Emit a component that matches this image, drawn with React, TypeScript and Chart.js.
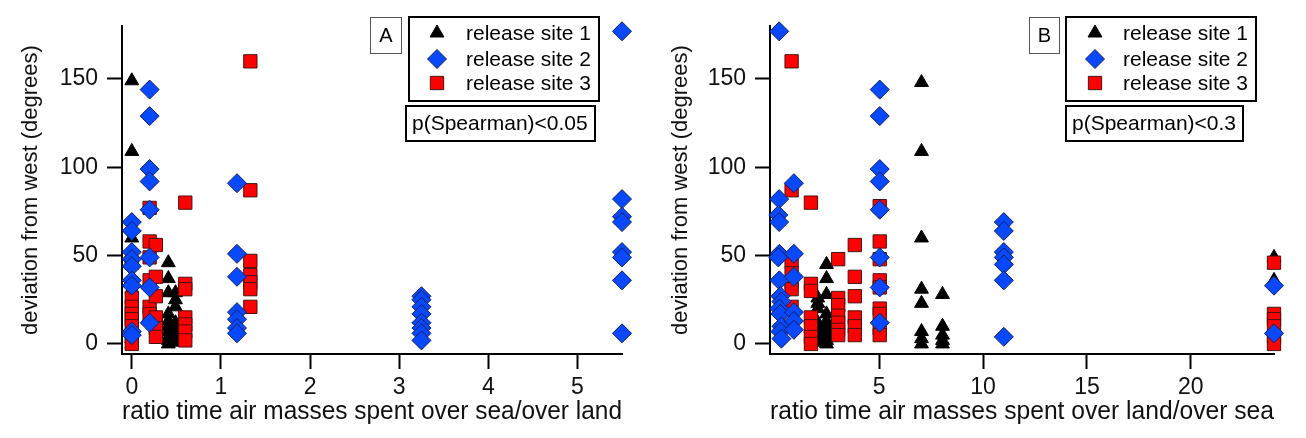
import React, { useEffect, useRef } from "react";
import { Chart, registerables } from "chart.js";

Chart.register(...registerables);

type Pt = [number, number];

// ---------- DATA ----------
const seriesNames = ["release site 1", "release site 2", "release site 3"];

// Panel A: x = ratio time air masses spent over sea/over land
const aSite1: Pt[] = [
  [0, 149], [0, 109], [0, 60], [0, 48], [0, 36], [0, 31], [0, 23], [0, 7], [0, 3], [0, 0],
  [0.41, 46], [0.41, 37], [0.41, 29], [0.41, 17], [0.41, 13], [0.41, 10], [0.41, 7], [0.41, 4], [0.41, 2], [0.41, 0],
  [0.49, 29], [0.49, 25], [0.49, 21], [0.49, 12], [0.49, 8], [0.49, 5], [0.49, 3], [0.49, 1],
];
const aSite2: Pt[] = [
  [0, 69], [0, 64], [0, 52], [0, 48], [0, 44], [0, 36], [0, 33], [0, 7], [0, 5],
  [0.2, 144], [0.2, 129], [0.2, 99], [0.2, 92], [0.2, 76], [0.2, 49], [0.2, 32], [0.2, 12],
  [1.18, 91], [1.18, 51], [1.18, 38], [1.18, 18], [1.18, 14], [1.18, 9], [1.18, 6],
  [3.25, 27], [3.25, 25], [3.25, 21], [3.25, 17], [3.25, 12], [3.25, 9], [3.25, 6], [3.25, 2],
  [5.5, 177], [5.5, 82], [5.5, 72], [5.5, 69], [5.5, 52], [5.5, 49], [5.5, 36], [5.5, 6],
];
const aSite3: Pt[] = [
  [0, 46], [0, 26], [0, 21], [0, 17], [0, 14], [0, 10], [0, 5], [0, 0],
  [0.2, 77], [0.2, 58], [0.2, 49], [0.2, 36], [0.2, 21], [0.2, 17],
  [0.27, 56], [0.27, 38], [0.27, 27], [0.27, 15], [0.27, 9], [0.27, 4],
  [0.6, 80], [0.6, 34], [0.6, 31], [0.6, 15], [0.6, 11], [0.6, 7], [0.6, 2],
  [1.33, 160], [1.33, 87], [1.33, 47], [1.33, 39], [1.33, 35], [1.33, 31], [1.33, 21],
];

// Panel B: x = ratio time air masses spent over land/over sea
const bSite1: Pt[] = [
  [7.04, 148], [7.04, 109], [7.04, 60], [7.04, 31], [7.04, 23], [7.04, 7], [7.04, 3], [7.04, 0],
  [8.05, 28], [8.05, 10], [8.05, 5], [8.05, 2], [8.05, 0],
  [2.47, 45], [2.47, 37], [2.47, 28], [2.47, 17], [2.47, 13], [2.47, 10], [2.47, 7], [2.47, 4], [2.47, 2], [2.47, 0],
  [2.05, 26], [2.05, 23], [2.05, 20], [2.05, 12], [2.05, 8], [2.05, 5], [2.05, 3], [2.05, 1],
  [24, 49], [24, 36],
];
const bSite2: Pt[] = [
  [0.19, 177], [0.19, 82], [0.15, 73], [0.19, 69], [0.2, 51], [0.15, 49], [0.2, 36], [0.25, 27], [0.3, 24],
  [0.2, 20], [0.25, 17], [0.3, 10], [0.25, 7], [0.3, 3],
  [0.9, 91], [0.9, 51], [0.9, 38], [0.9, 18], [0.9, 13], [0.9, 8],
  [5.03, 144], [5.03, 129], [5.03, 99], [5.03, 92], [5.03, 76], [5.03, 49], [5.03, 32], [5.03, 12],
  [11, 69], [11, 64], [11, 52], [11, 49], [11, 45], [11, 36], [11, 4],
  [24, 33], [24, 6],
];
const bSite3: Pt[] = [
  [0.79, 160], [0.79, 87], [0.79, 47], [0.79, 40], [0.79, 35], [0.79, 31], [0.79, 21],
  [1.72, 80], [1.72, 34], [1.72, 30], [1.72, 15], [1.72, 10], [1.72, 4], [1.72, 0],
  [3.03, 48], [3.03, 26], [3.03, 22], [3.03, 16], [3.03, 12], [3.03, 8], [3.03, 5],
  [3.83, 56], [3.83, 38], [3.83, 27], [3.83, 15], [3.83, 10], [3.83, 5],
  [5.03, 78], [5.03, 58], [5.03, 48], [5.03, 36], [5.03, 32], [5.03, 20], [5.03, 17], [5.03, 9], [5.03, 5],
  [24, 46], [24, 17], [24, 14], [24, 10], [24, 4], [24, 0],
];

const yTicks = [0, 50, 100, 150];
const xTicksA = [0, 1, 2, 3, 4, 5];
const xTicksB = [5, 10, 15, 20];

const yTitle = "deviation from west (degrees)";
const xTitleA = "ratio time air masses spent over sea/over land";
const xTitleB = "ratio time air masses spent over land/over sea";
const statA = "p(Spearman)<0.05";
const statB = "p(Spearman)<0.3";

// ---------- STYLE ----------
const FONT = '"Liberation Sans", Arial, Helvetica, sans-serif';
const H = 438;
const AREA_TOP = 26;
const AREA_BOTTOM = 354;

const markerStyles = [
  { shape: "triangle", r: 8, fill: "#000000", stroke: "#000000" },
  { shape: "rectRot", r: 9.5, fill: "#0848ff", stroke: "#10205a" },
  { shape: "rect", r: 9.4, fill: "#ff0000", stroke: "#4a1010" },
];

function drawMarker(ctx: CanvasRenderingContext2D, shape: string, x: number, y: number, r: number, fill: string, stroke: string) {
  ctx.beginPath();
  if (shape === "triangle") {
    ctx.moveTo(x, y - r);
    ctx.lineTo(x + 0.866 * r, y + 0.5 * r);
    ctx.lineTo(x - 0.866 * r, y + 0.5 * r);
  } else if (shape === "rectRot") {
    ctx.moveTo(x, y - r);
    ctx.lineTo(x + r, y);
    ctx.lineTo(x, y + r);
    ctx.lineTo(x - r, y);
  } else {
    const h = r * Math.SQRT1_2;
    ctx.rect(x - h, y - h, 2 * h, 2 * h);
  }
  ctx.closePath();
  ctx.fillStyle = fill;
  ctx.fill();
  ctx.lineWidth = 1;
  ctx.strokeStyle = stroke;
  ctx.stroke();
}

const annotPlugin = {
  id: "panelAnnot",
  afterDraw(chart: any, _args: any, o: any) {
    const ctx: CanvasRenderingContext2D = chart.ctx;
    ctx.save();
    // tag box
    const [tx, ty, tw, th] = o.tagBox;
    ctx.lineWidth = 1;
    ctx.strokeStyle = "#555";
    ctx.strokeRect(tx + 0.5, ty + 0.5, tw, th);
    ctx.fillStyle = "#000";
    ctx.font = `20px ${FONT}`;
    ctx.textAlign = "center";
    ctx.textBaseline = "middle";
    ctx.fillText(o.tag, tx + tw / 2 + 0.5, ty + th / 2 + 1);
    // legend box
    const [lx, ly, lw, lh] = o.legendBox;
    ctx.lineWidth = 2;
    ctx.strokeStyle = "#000";
    ctx.strokeRect(lx, ly, lw, lh);
    ctx.font = `21px ${FONT}`;
    ctx.textAlign = "left";
    seriesNames.forEach((name, i) => {
      const m = markerStyles[i];
      const y = o.rowsY[i];
      drawMarker(ctx, m.shape, o.markerX, y, m.r, m.fill, m.stroke);
      ctx.fillStyle = "#000";
      ctx.fillText(name, o.textX, y + 1);
    });
    // stat box
    const [sx, sy, sw, sh] = o.statBox;
    ctx.lineWidth = 2;
    ctx.strokeStyle = "#000";
    ctx.strokeRect(sx, sy, sw, sh);
    ctx.fillStyle = "#000";
    ctx.font = `21px ${FONT}`;
    ctx.fillText(o.statText, o.statTextX, sy + sh / 2 + 1);
    ctx.restore();
  },
};

function makeConfig(
  sets: Pt[][],
  xMin: number,
  xMax: number,
  xTicks: number[],
  xTitle: string,
  yAxisWidth: number,
  padRight: number,
  annot: any
): any {
  const orders = [3, 1, 2];
  return {
    type: "scatter",
    data: {
      datasets: sets.map((pts, i) => ({
        label: seriesNames[i],
        data: pts.map(([x, y]) => ({ x, y })),
        pointStyle: markerStyles[i].shape,
        pointRadius: markerStyles[i].r,
        pointHoverRadius: markerStyles[i].r,
        pointBackgroundColor: markerStyles[i].fill,
        pointBorderColor: markerStyles[i].stroke,
        pointBorderWidth: 1,
        showLine: false,
        clip: false,
        order: orders[i],
      })),
    },
    options: {
      animation: false,
      responsive: false,
      maintainAspectRatio: false,
      events: [],
      layout: { padding: { left: 0, top: AREA_TOP, right: padRight, bottom: 0 } },
      plugins: {
        legend: { display: false },
        tooltip: { enabled: false },
        panelAnnot: annot,
      },
      scales: {
        x: {
          type: "linear",
          position: "bottom",
          min: xMin,
          max: xMax,
          afterBuildTicks: (s: any) => {
            s.ticks = xTicks.map((v) => ({ value: v }));
          },
          afterFit: (s: any) => {
            s.height = H - AREA_BOTTOM;
          },
          ticks: { font: { family: FONT, size: 23 }, color: "#111", padding: 5, maxRotation: 0 },
          grid: { drawOnChartArea: false, drawTicks: true, tickLength: 15, tickWidth: 2, tickColor: "#000" },
          border: { display: true, color: "#000", width: 2 },
          title: {
            display: true,
            text: xTitle,
            font: { family: FONT, size: 25 },
            color: "#111",
            padding: { top: 0, bottom: 11 },
          },
        },
        y: {
          type: "linear",
          position: "left",
          min: -5.7,
          max: 180,
          afterBuildTicks: (s: any) => {
            s.ticks = yTicks.map((v) => ({ value: v }));
          },
          afterFit: (s: any) => {
            s.width = yAxisWidth;
          },
          ticks: { font: { family: FONT, size: 23 }, color: "#111", padding: 9 },
          grid: { drawOnChartArea: false, drawTicks: true, tickLength: 15, tickWidth: 2, tickColor: "#000" },
          border: { display: true, color: "#000", width: 2 },
          title: {
            display: true,
            text: yTitle,
            font: { family: FONT, size: 22 },
            color: "#111",
            padding: { top: 18, bottom: 0 },
          },
        },
      },
    },
    plugins: [annotPlugin],
  };
}

export default function App() {
  const refA = useRef<HTMLCanvasElement>(null);
  const refB = useRef<HTMLCanvasElement>(null);

  useEffect(() => {
    const chartA = new Chart(
      refA.current as HTMLCanvasElement,
      makeConfig([aSite1, aSite2, aSite3], -0.11, 5.5, xTicksA, xTitleA, 122, 28, {
        tag: "A",
        tagBox: [370, 17, 31, 36],
        legendBox: [409, 17, 190, 84],
        markerX: 437,
        textX: 466,
        rowsY: [33, 59, 83],
        statBox: [406, 106, 189, 35],
        statText: statA,
        statTextX: 412,
      })
    );
    const chartB = new Chart(
      refB.current as HTMLCanvasElement,
      makeConfig([bSite1, bSite2, bSite3], -0.25, 24, xTicksB, xTitleB, 120, 32, {
        tag: "B",
        tagBox: [379, 17, 30, 36],
        legendBox: [416, 17, 190, 84],
        markerX: 445,
        textX: 473,
        rowsY: [33, 59, 83],
        statBox: [416, 106, 177, 35],
        statText: statB,
        statTextX: 422,
      })
    );
    return () => {
      chartA.destroy();
      chartB.destroy();
    };
  }, []);

  return (
    <div style={{ position: "fixed", left: 0, top: 0, width: 1306, height: H, background: "#fff" }}>
      <canvas ref={refA} width={650} height={H} style={{ position: "absolute", left: 0, top: 0, display: "block" }} />
      <canvas ref={refB} width={656} height={H} style={{ position: "absolute", left: 650, top: 0, display: "block" }} />
    </div>
  );
}
